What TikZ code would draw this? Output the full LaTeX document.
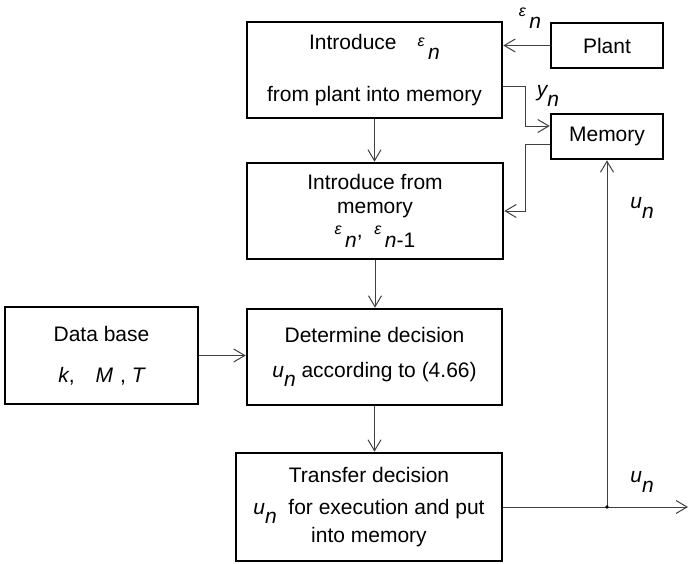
\documentclass[tikz,border=0pt]{standalone}
\usepackage{fontspec}
\setmainfont{Liberation Sans}
\usepackage{tikz}
\usetikzlibrary{arrows.meta}
\def\wide{689}
\def\haut{563}
\newcommand{\epsn}[1]{\raisebox{.15em}{\fontsize{16}{16}\selectfont\itshape ε}\,\raisebox{-.45em}{\itshape #1}}
\newcommand{\vsub}[2]{{\itshape #1}\raisebox{-.45em}{\itshape #2}}
\tikzset{
	block/.style={draw, line width=2.6pt, inner sep=0pt, align=center, font=\fontsize{21}{24}\selectfont},
	link/.style={draw=black!75, line width=1pt, -{Straight Barb[length=11pt,width=13pt]}},
	lab/.style={inner sep=0pt, font=\fontsize{21}{24}\selectfont},
}

\begin{document}
\begin{tikzpicture}[x=1pt, y=-1pt]
	\useasboundingbox (0,0) rectangle (\wide,\haut);
	%\draw[step=50, black!20] (0,0) grid (\wide,\haut);
	\node[block, minimum width=255pt, minimum height=96pt] (intro) at (374.5,70) {Introduce\quad\epsn{n}\\[26pt]from plant into memory};
	\node[block, minimum width=112pt, minimum height=45pt] (plant) at (607,45.5) {Plant};
	\node[block, minimum width=112pt, minimum height=45pt] (memory) at (607,136.5) {Memory};
	\node[block, minimum width=256pt, minimum height=96pt] (frommem) at (375,211) {Introduce from\\memory\\\epsn{n}, \ \epsn{n\upshape -1}};
	\node[block, minimum width=193pt, minimum height=97pt] (database) at (101.5,355.5) {Data base\\[17pt]{\itshape k},\quad{\itshape M}\,\,, {\itshape T}};
	\node[block, minimum width=255pt, minimum height=96pt] (decide) at (374.5,357) {Determine decision\\[11pt]\vsub{u}{n} according to (4.66)};
	\node[block, minimum width=266pt, minimum height=108pt] (transfer) at (369,507) {Transfer decision\\[8pt]\vsub{u}{n}\ \ for execution and put\\[3pt]into memory};

	\coordinate (ybend) at (525,86);
	\coordinate (yin) at (525,126);
	\coordinate (mbend) at (525,144);
	\coordinate (junc) at (607,507);
	\coordinate (out) at (688,507);

	\draw[link] (plant) -- (plant -| intro.east);
	\draw[link] (intro.east |- ybend) -- (ybend) -- (yin) -- (yin -| memory.west);
	\draw[link] (memory.west |- mbend) -- (mbend) -- (mbend |- frommem.east) -- (frommem.east);
	\draw[link] (intro.south) -- (intro.south |- frommem.north);
	\draw[link] (frommem.south) -- (frommem.south |- decide.north);
	\draw[link] (database) -- (database -| decide.west);
	\draw[link] (decide.south) -- (decide.south |- transfer.north);
	\draw[link] (transfer.east |- junc) -- (out);
	\draw[link] (junc) -- (junc |- memory.south);
	\fill (junc) circle (1.8pt);

	\node[lab] (eplant) at (530,18) {\epsn{n}};
	\node[lab] (yout) at (548,96) {\vsub{y}{n}};
	\node[lab] (uback) at (642,208) {\vsub{u}{n}};
	\node[lab] (uout) at (642,482) {\vsub{u}{n}};
\end{tikzpicture}
\end{document}
